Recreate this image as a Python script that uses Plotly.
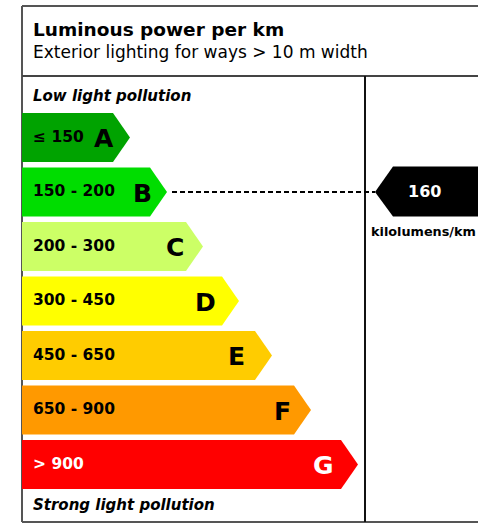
import plotly.graph_objects as go

# ---- data ----
classes = ["A", "B", "C", "D", "E", "F", "G"]
range_labels = ["≤ 150", "150 - 200", "200 - 300", "300 - 450", "450 - 650", "650 - 900", "> 900"]
upper_bounds = [150, 200, 300, 450, 650, 900, float("inf")]
class_colors = ["#00A300", "#00DD00", "#CCFF66", "#FFFF00", "#FFCC00", "#FF9900", "#FF0000"]
value = 160
unit = "kilolumens/km"
title = "Luminous power per km"
subtitle = "Exterior lighting for ways > 10 m width"
top_note = "Low light pollution"
bottom_note = "Strong light pollution"

# ---- layout constants (page pixels) ----
W, H = 478, 523
FX0, FY0, FY1 = 22, 6, 522
HEADER_Y = 76
DIV_X = 365
BAR_X0 = 22
BAR_ENDS = [113, 150, 186, 222, 255, 294, 341]
LETTER_X = [103.5, 142, 174.5, 205, 236, 282.5, 323]
TIP = 17
BAR_TOP0 = 113
PITCH = 54.5
BAR_H = 49
FONT = "DejaVu Sans, Verdana, sans-serif"

fig = go.Figure()

def bar_geom(i):
    y0 = BAR_TOP0 + i * PITCH
    return y0, y0 + BAR_H

for i, c in enumerate(classes):
    y0, y1 = bar_geom(i)
    xe = BAR_ENDS[i]
    xs = [BAR_X0, xe, xe + TIP, xe, BAR_X0, BAR_X0]
    ys = [y0, y0, (y0 + y1) / 2, y1, y1, y0]
    fig.add_trace(go.Scatter(x=xs, y=ys, fill="toself", fillcolor=class_colors[i],
                             line=dict(width=0), mode="lines", hoverinfo="skip",
                             showlegend=False))
    txtcol = "white" if i == len(classes) - 1 else "black"
    fig.add_annotation(x=31, y=(y0 + y1) / 2 - 1, text="<b>%s</b>" % range_labels[i],
                       xanchor="left", yanchor="middle", showarrow=False,
                       font=dict(family=FONT, size=15.5, color=txtcol))
    fig.add_annotation(x=LETTER_X[i], y=(y0 + y1) / 2 + 1, text="<b>%s</b>" % c,
                       xanchor="center", yanchor="middle", showarrow=False,
                       font=dict(family=FONT, size=25, color=txtcol))

# rating from value
idx = next(i for i, ub in enumerate(upper_bounds) if value <= ub)
y0, y1 = bar_geom(idx)
ym = (y0 + y1) / 2
tip_x = BAR_ENDS[idx] + TIP

# pointer
PX = 375
fig.add_trace(go.Scatter(x=[tip_x + 5, PX], y=[ym, ym], mode="lines",
                         line=dict(color="black", width=1.8, dash="5px,3px"),
                         hoverinfo="skip", showlegend=False))
fig.add_trace(go.Scatter(x=[PX, PX + 18, W + 20, W + 20, PX + 18, PX],
                         y=[ym, y0 - 1, y0 - 1, y1, y1, ym],
                         fill="toself", fillcolor="black", line=dict(width=0),
                         mode="lines", hoverinfo="skip", showlegend=False))
fig.add_annotation(x=424, y=ym - 1, text="<b>%d</b>" % value, showarrow=False,
                   xanchor="center", yanchor="middle",
                   font=dict(family=FONT, size=16, color="white"))
fig.add_annotation(x=369, y=y1 + 15, text="<b>%s</b>" % unit, showarrow=False,
                   xanchor="left", yanchor="middle",
                   font=dict(family=FONT, size=12.8, color="black"))

# texts
fig.add_annotation(x=31, y=29, text="<b>%s</b>" % title, showarrow=False,
                   xanchor="left", yanchor="middle",
                   font=dict(family=FONT, size=18.5, color="black"))
fig.add_annotation(x=31, y=51.5, text=subtitle, showarrow=False,
                   xanchor="left", yanchor="middle",
                   font=dict(family=FONT, size=17, color="black"))
fig.add_annotation(x=31, y=96, text="<b><i>%s</i></b>" % top_note, showarrow=False,
                   xanchor="left", yanchor="middle",
                   font=dict(family=FONT, size=15, color="black"))
fig.add_annotation(x=31, y=505, text="<b><i>%s</i></b>" % bottom_note, showarrow=False,
                   xanchor="left", yanchor="middle",
                   font=dict(family=FONT, size=15, color="black"))

# frame lines
shapes = [
    dict(type="line", x0=FX0, x1=W + 10, y0=FY0, y1=FY0, line=dict(color="#555555", width=2)),
    dict(type="line", x0=FX0, x1=FX0, y0=FY0, y1=FY1, line=dict(color="#555555", width=2)),
    dict(type="line", x0=FX0, x1=W + 10, y0=FY1, y1=FY1, line=dict(color="#555555", width=2)),
    dict(type="line", x0=FX0, x1=W + 10, y0=HEADER_Y, y1=HEADER_Y, line=dict(color="#444444", width=2)),
    dict(type="line", x0=DIV_X, x1=DIV_X, y0=HEADER_Y, y1=FY1, line=dict(color="#111111", width=2)),
]
for s in shapes:
    s.update(xref="x", yref="y", layer="below")
fig.update_layout(shapes=shapes)

fig.update_layout(
    width=W, height=H, margin=dict(l=0, r=0, t=0, b=0),
    paper_bgcolor="white", plot_bgcolor="white",
    xaxis=dict(range=[0, W], visible=False, fixedrange=True),
    yaxis=dict(range=[H, 0], visible=False, fixedrange=True),
)

fig.write_html("out.html", config={"displayModeBar": False, "staticPlot": True},
               post_script="document.body.style.margin='0';document.body.style.overflow='hidden';")
